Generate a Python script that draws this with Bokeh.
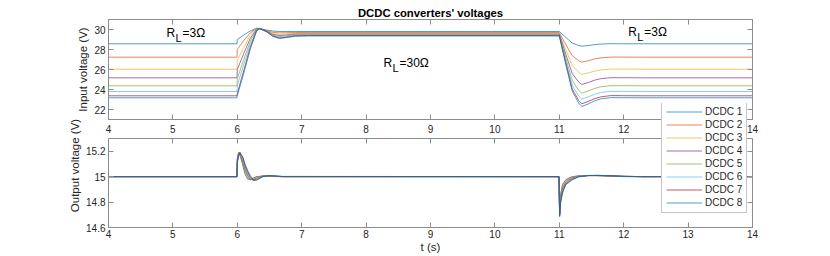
from bokeh.plotting import figure
from bokeh.models import Range1d, FixedTicker, LinearAxis, Legend, LegendItem, Label
from bokeh.layouts import column
from bokeh.embed import file_html
from bokeh.resources import INLINE

TITLE = "DCDC converters' voltages"
SERIES = ["DCDC 1", "DCDC 2", "DCDC 3", "DCDC 4", "DCDC 5", "DCDC 6", "DCDC 7", "DCDC 8"]
COLORS = ["#0072BD", "#D95319", "#EDB120", "#7E2F8E", "#77AC30", "#4DBEEE", "#A2142F", "#0072BD"]
X_TICKS = [4, 5, 6, 7, 8, 9, 10, 11, 12, 13, 14]
VIN_TICKS = [22, 24, 26, 28, 30]
VOUT_TICKS = [14.6, 14.8, 15.0, 15.2]
VOUT_TICK_LABELS = ["14.6", "14.8", "15", "15.2"]

# Input voltages (V)
T_IN = [4.0, 5.995, 6.0, 6.1, 6.2, 6.3, 6.35, 6.45, 6.55, 6.65, 6.75, 6.9, 7.1,
        10.995, 11.0, 11.1, 11.2, 11.3, 11.35, 11.45, 11.55, 11.65, 11.8, 12.0, 12.3, 14.0]
VIN_1 = [28.57, 28.57, 29.00, 29.45, 29.85, 30.12, 30.08, 29.95, 29.85, 29.80, 29.80, 29.80, 29.80,
         29.80, 29.80, 29.21, 28.65, 28.40, 28.33, 28.40, 28.49, 28.54, 28.58, 28.57, 28.57, 28.57]
VIN_2 = [27.23, 27.23, 28.00, 28.90, 29.65, 30.12, 30.10, 29.90, 29.72, 29.66, 29.68, 29.70, 29.70,
         29.70, 29.70, 28.51, 27.38, 26.88, 26.73, 26.88, 27.06, 27.17, 27.24, 27.24, 27.23, 27.23]
VIN_3 = [26.03, 26.03, 26.90, 28.20, 29.40, 30.10, 30.10, 29.85, 29.60, 29.52, 29.56, 29.61, 29.62,
         29.62, 29.62, 27.97, 26.41, 25.71, 25.50, 25.66, 25.84, 25.97, 26.04, 26.04, 26.03, 26.03]
VIN_4 = [25.17, 25.17, 26.00, 27.60, 29.10, 30.05, 30.10, 29.85, 29.52, 29.40, 29.45, 29.54, 29.55,
         29.55, 29.55, 27.53, 25.61, 24.75, 24.50, 24.70, 24.94, 25.09, 25.18, 25.18, 25.17, 25.17]
VIN_5 = [24.37, 24.37, 25.10, 27.00, 28.80, 30.00, 30.10, 29.82, 29.45, 29.30, 29.36, 29.48, 29.50,
         29.50, 29.50, 27.15, 24.92, 23.92, 23.63, 23.85, 24.11, 24.28, 24.38, 24.38, 24.37, 24.37]
VIN_6 = [23.80, 23.80, 24.40, 26.50, 28.50, 29.95, 30.10, 29.82, 29.40, 29.22, 29.28, 29.42, 29.45,
         29.45, 29.45, 26.88, 24.44, 23.35, 23.03, 23.26, 23.53, 23.71, 23.81, 23.81, 23.80, 23.80]
VIN_7 = [23.37, 23.37, 23.60, 25.90, 28.20, 29.90, 30.08, 29.80, 29.35, 29.15, 29.22, 29.37, 29.40,
         29.40, 29.40, 26.67, 24.07, 22.91, 22.57, 22.81, 23.09, 23.27, 23.39, 23.38, 23.37, 23.37]
VIN_8 = [23.17, 23.17, 23.40, 25.60, 28.00, 29.85, 30.08, 29.80, 29.32, 29.10, 29.18, 29.32, 29.35,
         29.35, 29.35, 26.53, 23.85, 22.65, 22.30, 22.56, 22.87, 23.07, 23.19, 23.18, 23.17, 23.17]

# Output voltages (V)
T_OUT = [4.0, 5.995, 6.0, 6.02, 6.04, 6.08, 6.12, 6.16, 6.2, 6.25, 6.3, 6.4, 6.5, 6.7,
         10.995, 11.005, 11.02, 11.05, 11.1, 11.15, 11.2, 11.3, 11.45, 11.6, 11.8, 12.0, 12.3, 14.0]
VOUT_1 = [15, 15, 15.14, 15.19, 15.17, 15.10, 15.02, 14.98, 14.978, 14.99, 15.0, 15.004, 15.002, 15.0,
          15.0, 14.72, 14.86, 14.94, 14.975, 14.99, 15.0, 15.006, 15.008, 15.007, 15.004, 15.0, 15.0, 15.0]
VOUT_2 = [15, 15, 15.14, 15.19, 15.18, 15.11, 15.04, 14.99, 14.975, 14.985, 15.0, 15.005, 15.003, 15.0,
          15.0, 14.71, 14.85, 14.93, 14.97, 14.985, 14.997, 15.006, 15.008, 15.008, 15.004, 15.001, 15.0, 15.0]
VOUT_3 = [15, 15, 15.13, 15.19, 15.19, 15.12, 15.05, 15.0, 14.975, 14.98, 14.995, 15.006, 15.004, 15.0,
          15.0, 14.705, 14.84, 14.92, 14.96, 14.98, 14.993, 15.005, 15.009, 15.008, 15.005, 15.001, 15.0, 15.0]
VOUT_4 = [15, 15, 15.13, 15.18, 15.19, 15.13, 15.06, 15.01, 14.98, 14.975, 14.99, 15.006, 15.005, 15.0,
          15.0, 14.70, 14.83, 14.91, 14.955, 14.975, 14.99, 15.004, 15.009, 15.009, 15.005, 15.002, 15.0, 15.0]
VOUT_5 = [15, 15, 15.12, 15.18, 15.19, 15.14, 15.07, 15.02, 14.985, 14.972, 14.985, 15.005, 15.006, 15.0,
          15.0, 14.70, 14.82, 14.90, 14.95, 14.97, 14.985, 15.003, 15.009, 15.009, 15.006, 15.002, 15.0, 15.0]
VOUT_6 = [15, 15, 15.12, 15.17, 15.19, 15.15, 15.08, 15.03, 14.99, 14.97, 14.98, 15.004, 15.007, 15.001,
          15.0, 14.695, 14.81, 14.89, 14.945, 14.965, 14.982, 15.002, 15.009, 15.01, 15.006, 15.002, 15.0, 15.0]
VOUT_7 = [15, 15, 15.11, 15.17, 15.19, 15.16, 15.09, 15.04, 15.0, 14.97, 14.975, 15.002, 15.008, 15.001,
          15.0, 14.69, 14.80, 14.88, 14.94, 14.96, 14.978, 15.0, 15.009, 15.01, 15.007, 15.003, 15.0, 15.0]
VOUT_8 = [15, 15, 15.11, 15.16, 15.18, 15.16, 15.10, 15.05, 15.01, 14.975, 14.972, 15.0, 15.008, 15.002,
          15.0, 14.685, 14.79, 14.87, 14.935, 14.955, 14.975, 14.998, 15.008, 15.01, 15.007, 15.003, 15.0, 15.0]

VIN = [VIN_1, VIN_2, VIN_3, VIN_4, VIN_5, VIN_6, VIN_7, VIN_8]
VOUT = [VOUT_1, VOUT_2, VOUT_3, VOUT_4, VOUT_5, VOUT_6, VOUT_7, VOUT_8]

# Load annotations: (t, V, value text)
RL_NOTES = [(4.9, 29.7, "=3\u03a9"), (8.27, 26.7, "=30\u03a9"), (12.07, 29.8, "=3\u03a9")]

VIN_LIM = (21, 31)
VOUT_LIM = (14.6, 15.3)

FONT = "Liberation Sans"
TXT = "#262626"
AXC = "#8c8c8c"

# layout geometry (px)
TOP_FRAME_H = 100
BOT_BOX_H = 89          # height of the output-voltage axes box
LEGEND_ABOVE = 35       # legend starts this far above the output box
LEGEND_H = 110


def style_axis(ax, ticks, labels=True, overrides=None, standoff=3):
    ax.ticker = FixedTicker(ticks=ticks)
    ax.major_tick_in = 5
    ax.major_tick_out = 0
    ax.minor_tick_line_color = None
    ax.axis_line_color = AXC
    ax.major_tick_line_color = AXC
    ax.major_label_text_font = FONT
    ax.major_label_text_color = TXT
    ax.axis_label_text_font = FONT
    ax.axis_label_text_font_style = "normal"
    ax.axis_label_text_color = TXT
    ax.axis_label_text_font_size = "11.5px"
    if labels:
        ax.major_label_text_font_size = "10px"
        ax.major_label_standoff = standoff
    else:
        ax.major_label_text_font_size = "0px"
        ax.major_label_text_color = None
        ax.major_label_standoff = 0
    if overrides:
        ax.major_label_overrides = overrides


# ---- top: input voltages
p1 = figure(frame_width=644, frame_height=TOP_FRAME_H, x_range=Range1d(4, 14),
            y_range=Range1d(*VIN_LIM), output_backend="svg", toolbar_location=None,
            min_border_left=108, min_border_right=20, min_border_top=19, min_border_bottom=15,
            title=TITLE)
p1.grid.visible = False
p1.outline_line_color = AXC
p1.border_fill_color = None
p1.background_fill_color = None
p1.add_layout(LinearAxis(), "above")
p1.add_layout(LinearAxis(), "right")
style_axis(p1.below[0], X_TICKS, standoff=5)
style_axis(p1.above[0], X_TICKS, labels=False)
p1.title.align = "center"
p1.title.text_font = FONT
p1.title.text_font_size = "11.3px"
p1.title.text_font_style = "bold"
p1.title.text_color = "#000000"
p1.title.standoff = 2
style_axis(p1.left[0], VIN_TICKS)
style_axis(p1.right[0], VIN_TICKS, labels=False)
p1.left[0].axis_label = "Input voltage (V)"
p1.left[0].axis_label_standoff = 2
for i in range(8):
    p1.line(T_IN, VIN[i], line_color=COLORS[i], line_width=0.7)
for (tx, vy, txt) in RL_NOTES:
    p1.add_layout(Label(x=tx, y=vy, text="R", text_font=FONT, text_font_size="12px",
                        text_baseline="middle", text_color="#000000"))
    p1.add_layout(Label(x=tx, y=vy, x_offset=9, y_offset=-5, text="L", text_font=FONT,
                        text_font_size="11px", text_baseline="middle", text_color="#000000"))
    p1.add_layout(Label(x=tx, y=vy, x_offset=16, text=txt, text_font=FONT, text_font_size="12px",
                        text_baseline="middle", text_color="#000000"))

# ---- bottom: output voltages; its frame reaches up to the legend top so the legend is not clipped
span_v = VOUT_LIM[1] - VOUT_LIM[0]
y_top = VOUT_LIM[1] + LEGEND_ABOVE * span_v / BOT_BOX_H
p2 = figure(frame_width=644, frame_height=BOT_BOX_H + LEGEND_ABOVE, x_range=Range1d(4, 14),
            y_range=Range1d(VOUT_LIM[0], y_top), output_backend="svg", toolbar_location=None,
            min_border_left=108, min_border_right=20, min_border_top=2, min_border_bottom=24)
p2.grid.visible = False
p2.outline_line_color = None
p2.border_fill_color = None
p2.background_fill_color = None
p2.margin = (-34, 0, 0, 0)
p2.styles = {"position": "relative", "z-index": "10"}
top_edge = LinearAxis(fixed_location=VOUT_LIM[1])
p2.add_layout(top_edge, "above")
p2.add_layout(LinearAxis(bounds=VOUT_LIM), "right")
p2.left[0].bounds = VOUT_LIM
style_axis(p2.below[0], X_TICKS, standoff=2)
style_axis(top_edge, X_TICKS, labels=False)
style_axis(p2.left[0], VOUT_TICKS, overrides={v: s for v, s in zip(VOUT_TICKS, VOUT_TICK_LABELS)})
style_axis(p2.right[0], VOUT_TICKS, labels=False)
p2.left[0].axis_label = "Output voltage (V)"
p2.left[0].axis_label_standoff = 2
p2.below[0].axis_label = "t (s)"
p2.below[0].axis_label_standoff = 0
rend = []
for i in range(8):
    rend.append(p2.line(T_OUT, VOUT[i], line_color=COLORS[i], line_width=0.7))

legend = Legend(items=[LegendItem(label=SERIES[i], renderers=[rend[i]]) for i in range(8)],
                location=(553, BOT_BOX_H + LEGEND_ABOVE - LEGEND_H))
legend.label_text_font = FONT
legend.label_text_font_size = "10px"
legend.label_text_color = TXT
legend.border_line_color = AXC
legend.border_line_width = 1
legend.background_fill_color = "white"
legend.background_fill_alpha = 1.0
legend.padding = 4
legend.spacing = 2
legend.margin = 0
legend.glyph_width = 36
legend.glyph_height = 11
legend.label_height = 11
legend.label_standoff = 3
p2.add_layout(legend)

layout = column(p1, p2)
open("out.html", "w").write(file_html(layout, INLINE))
